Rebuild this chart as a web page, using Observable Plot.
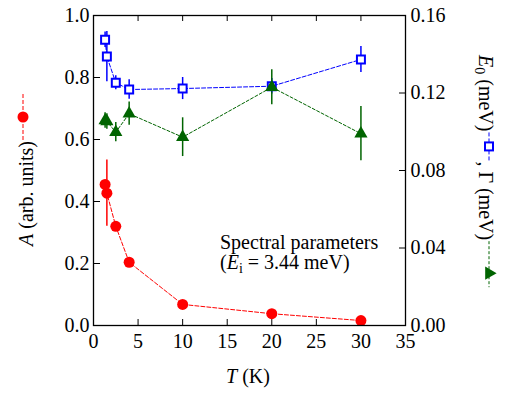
<!DOCTYPE html>
<html><head><meta charset="utf-8">
<script src="https://cdn.jsdelivr.net/npm/d3@7"></script>
<script src="https://cdn.jsdelivr.net/npm/@observablehq/plot@0.6"></script>
<style>body{margin:0;background:#fff} svg{display:block}</style>
</head><body><div id="chart"></div>
<script>
// ---- data ----
const T = [1.3, 1.5, 2.5, 4, 10, 20, 30];               // temperature (K)
const A = [0.455, 0.427, 0.32, 0.204, 0.068, 0.038, 0.016]; // A (arb. units), left axis
const A_err = [0.004, 0.107, 0.004, 0.004, 0.004, 0.004, 0.004];
const E0 = [0.1475, 0.1388, 0.1253, 0.1218, 0.1223, 0.1235, 0.1373]; // meV, right axis
const E0_err = [0.004, 0.013, 0.0036, 0.005, 0.0057, 0.004, 0.0067];
const Gamma = [0.1058, 0.1053, 0.0998, 0.1093, 0.0972, 0.123, 0.099]; // meV, right axis
const Gamma_err = [0.004, 0.004, 0.005, 0.006, 0.010, 0.009, 0.014];
const xTicks = [0, 5, 10, 15, 20, 25, 30, 35];
const leftTicks = [0, 0.2, 0.4, 0.6, 0.8, 1.0];
const rightTicks = [0, 0.04, 0.08, 0.12, 0.16];
const rightMax = 0.16;
const leftMax = 1.0;

const k = leftMax / rightMax; // right-axis units -> left-axis units
const rows = T.map((t, i) => ({
  T: t, A: A[i], Ae: A_err[i],
  E: E0[i] * k, Ee: E0_err[i] * k,
  G: Gamma[i] * k, Ge: Gamma_err[i] * k
}));

const RED = "#ff0000", BLUE = "#0000ff", GREEN = "#006400";
const FONT = "Liberation Serif";

const chart = Plot.plot({
  width: 512, height: 394,
  marginLeft: 93, marginRight: 107, marginTop: 15, marginBottom: 69,
  style: {fontFamily: FONT, fontSize: "20px", background: "white", color: "black", overflow: "visible"},
  x: {domain: [0, 35]},
  y: {domain: [0, leftMax]},
  marks: [
    Plot.axisX({anchor: "bottom", ticks: xTicks, tickSize: -6, tickPadding: 14, label: null, tickFormat: d => String(d)}),
    Plot.axisX({anchor: "top", ticks: xTicks, tickSize: -5, tickFormat: () => "", label: null}),
    Plot.axisY({anchor: "left", ticks: leftTicks, tickSize: -7, tickPadding: 11, tickFormat: d => d.toFixed(1), label: null}),
    Plot.axisY({anchor: "right", ticks: rightTicks.map(v => v * k), tickSize: -7, tickPadding: 12, tickFormat: d => (d / k).toFixed(2), label: null}),
    // dashed connecting lines
    Plot.line(rows, {x: "T", y: "A", stroke: RED, strokeWidth: 1, strokeDasharray: "4,2"}),
    Plot.line(rows, {x: "T", y: "E", stroke: BLUE, strokeWidth: 1, strokeDasharray: "4,2"}),
    Plot.line(rows, {x: "T", y: "G", stroke: GREEN, strokeWidth: 1, strokeDasharray: "3,2"}),
    // error bars
    Plot.ruleX(rows, {x: "T", y1: d => d.A - d.Ae, y2: d => d.A + d.Ae, stroke: RED, strokeWidth: 1.5}),
    Plot.ruleX(rows, {x: "T", y1: d => d.E - d.Ee, y2: d => d.E + d.Ee, stroke: BLUE, strokeWidth: 1.5}),
    Plot.ruleX(rows, {x: "T", y1: d => d.G - d.Ge, y2: d => d.G + d.Ge, stroke: GREEN, strokeWidth: 1.5}),
    // markers
    Plot.dot(rows, {x: "T", y: "A", r: 5.5, fill: RED, stroke: "none"}),
    Plot.dot(rows, {x: "T", y: "E", symbol: "square", r: 4.5, fill: "white", stroke: BLUE, strokeWidth: 2}),
    Plot.dot(rows, {x: "T", y: "G", symbol: "triangle", r: 4.9, fill: GREEN, stroke: "none"}),
    Plot.frame({stroke: "black", strokeWidth: 1.3})
  ]
});
document.getElementById("chart").appendChild(chart);

// ---- text labels with rich formatting ----
const svg = d3.select(chart);
function addParts(text, parts) {
  for (const p of parts) {
    const ts = text.append("tspan").text(p.t);
    if (p.italic) ts.attr("font-style", "italic");
    if (p.sub) ts.attr("font-size", 14).attr("dy", 4);
    if (p.unsub) ts.attr("dy", -4);
  }
  return text;
}
function mkText(g, x, y, parts, anchor = "start") {
  const t = g.append("text").attr("x", x).attr("y", y)
    .attr("font-family", FONT).attr("font-size", 20).attr("fill", "black")
    .attr("text-anchor", anchor);
  return addParts(t, parts);
}

// x-axis label
mkText(svg, 248, 383, [{t: "T", italic: true}, {t: " (K)"}], "middle");

// annotation
mkText(svg, 220, 249, [{t: "Spectral parameters"}]);
mkText(svg, 220, 269, [{t: "("}, {t: "E", italic: true}, {t: "i", sub: true}, {t: " = 3.44 meV)", unsub: true}]);

// left axis label with legend glyph
{
  const g = svg.append("g").attr("transform", "translate(33,140) rotate(-90)");
  mkText(g, -1, 0, [{t: "A", italic: true}, {t: " (arb. units)"}], "end");
  g.append("line").attr("x1", 0).attr("x2", 47).attr("y1", -10).attr("y2", -10)
    .attr("stroke", RED).attr("stroke-width", 1).attr("stroke-dasharray", "4,2");
  g.append("circle").attr("cx", 23).attr("cy", -10).attr("r", 5.5).attr("fill", RED);
}

// right axis label with legend glyphs
{
  const g = svg.append("g").attr("transform", "translate(479,55) rotate(90)");
  let pos = 0;
  const t1 = mkText(g, pos, 0, [{t: "E", italic: true}, {t: "0", sub: true}, {t: " (meV)", unsub: true}]);
  pos += t1.node().getComputedTextLength() + 1;
  g.append("line").attr("x1", pos).attr("x2", pos + 28).attr("y1", -10).attr("y2", -10)
    .attr("stroke", BLUE).attr("stroke-width", 1).attr("stroke-dasharray", "4,2");
  g.append("rect").attr("x", pos + 14 - 4).attr("y", -14).attr("width", 8).attr("height", 8)
    .attr("fill", "white").attr("stroke", BLUE).attr("stroke-width", 2);
  pos += 29;
  const t2 = mkText(g, pos, 0, [{t: ", Γ (meV)"}]);
  pos += t2.node().getComputedTextLength() + 1;
  g.append("line").attr("x1", pos).attr("x2", pos + 46).attr("y1", -10).attr("y2", -10)
    .attr("stroke", GREEN).attr("stroke-width", 1).attr("stroke-dasharray", "3,2");
  const tri = d3.symbol(d3.symbolTriangle, Math.PI * 4.9 * 4.9)();
  g.append("path").attr("d", tri).attr("transform", `translate(${pos + 32},-10) rotate(0)`).attr("fill", GREEN);
}
</script></body></html>
